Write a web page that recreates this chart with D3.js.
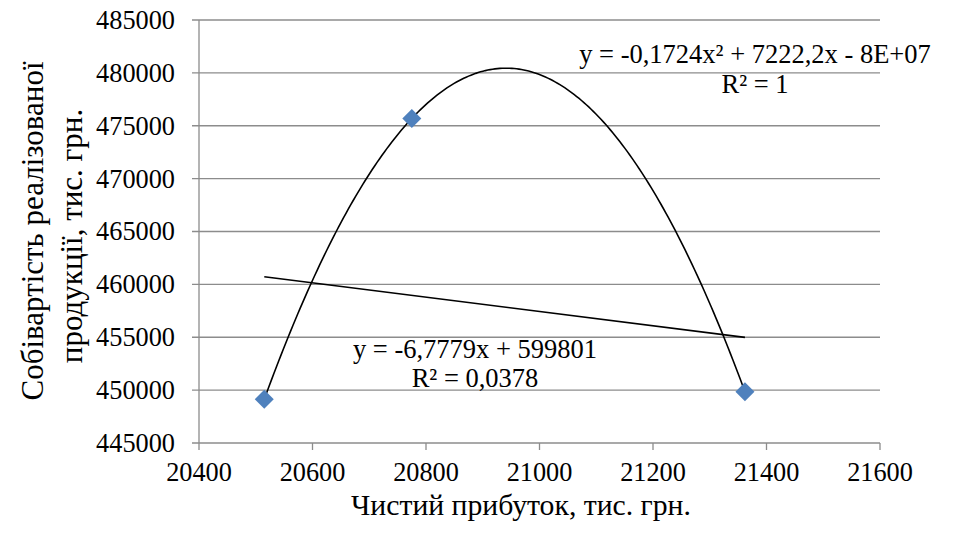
<!DOCTYPE html>
<html><head><meta charset="utf-8">
<script src="https://cdn.jsdelivr.net/npm/d3@7/dist/d3.min.js"></script>
<style>body{margin:0;background:#fff}svg{display:block}</style>
</head><body>
<script>
const xValues = [20515, 20775, 21362];
const yValues = [449130, 475690, 449850];
const xTicks = [20400, 20600, 20800, 21000, 21200, 21400, 21600];
const yTicks = [445000, 450000, 455000, 460000, 465000, 470000, 475000, 480000, 485000];
const xTitle = "Чистий прибуток, тис. грн.";
const yTitle = ["Собівартість реалізованої", "продукції, тис. грн."];
const polyLabel = ["y = -0,1724x² + 7222,2x - 8E+07", "R² = 1"];
const linLabel = ["y = -6,7779x + 599801", "R² = 0,0378"];

const W = 955, H = 535;
const m = {l: 199, r: 880, t: 20, b: 443};
const FONT = "'Liberation Serif', 'Times New Roman', Times, serif";
const svg = d3.select("body").append("svg").attr("width", W).attr("height", H)
  .attr("font-family", FONT);
const x = d3.scaleLinear().domain([20400, 21600]).range([m.l, m.r]);
const y = d3.scaleLinear().domain([445000, 485000]).range([m.b, m.t]);
const grid = "#8c8c8c";

svg.append("g").selectAll("line").data(yTicks).join("line")
  .attr("x1", m.l - 7).attr("x2", m.r).attr("y1", d => y(d)).attr("y2", d => y(d))
  .attr("stroke", grid).attr("stroke-width", 1.3);
svg.append("line").attr("x1", m.l).attr("x2", m.l).attr("y1", m.t).attr("y2", m.b)
  .attr("stroke", grid).attr("stroke-width", 1.3);
svg.append("g").selectAll("line").data(xTicks).join("line")
  .attr("x1", d => x(d)).attr("x2", d => x(d)).attr("y1", m.b).attr("y2", m.b + 7)
  .attr("stroke", grid).attr("stroke-width", 1.3);

function txt(sel) { return sel.attr("font-family", FONT).attr("fill", "#000"); }

txt(svg.append("g").selectAll("text").data(yTicks).join("text"))
  .attr("x", 175).attr("y", d => y(d)).attr("dy", "0.34em")
  .attr("text-anchor", "end").attr("font-size", 26.3).text(d => d);
txt(svg.append("g").selectAll("text").data(xTicks).join("text"))
  .attr("x", d => x(d)).attr("y", 481)
  .attr("text-anchor", "middle").attr("font-size", 26.3).text(d => d);

txt(svg.append("text")).attr("x", 521).attr("y", 515).attr("text-anchor", "middle")
  .attr("font-size", 29.7).text(xTitle);
yTitle.forEach((t, i) => {
  txt(svg.append("text")).attr("transform", `translate(${43 + i * 39},${i === 0 ? 231 : 236}) rotate(-90)`)
    .attr("text-anchor", "middle").attr("font-size", 31).text(t);
});

function solve(A, b) {
  const n = b.length; A = A.map((r, i) => [...r, b[i]]);
  for (let i = 0; i < n; i++) {
    let p = i; for (let k = i + 1; k < n; k++) if (Math.abs(A[k][i]) > Math.abs(A[p][i])) p = k;
    [A[i], A[p]] = [A[p], A[i]];
    for (let k = i + 1; k < n; k++) { const f = A[k][i] / A[i][i]; for (let j = i; j <= n; j++) A[k][j] -= f * A[i][j]; }
  }
  const s = new Array(n).fill(0);
  for (let i = n - 1; i >= 0; i--) { let v = A[i][n]; for (let j = i + 1; j < n; j++) v -= A[i][j] * s[j]; s[i] = v / A[i][i]; }
  return s;
}
function polyfit(deg) {
  const x0 = d3.mean(xValues);
  const n = deg + 1;
  const A = Array.from({length: n}, () => new Array(n).fill(0)), b = new Array(n).fill(0);
  xValues.forEach((xv, k) => {
    const u = xv - x0;
    for (let i = 0; i < n; i++) { b[i] += Math.pow(u, i) * yValues[k]; for (let j = 0; j < n; j++) A[i][j] += Math.pow(u, i + j); }
  });
  const c = solve(A, b);
  return xv => c.reduce((s, ci, i) => s + ci * Math.pow(xv - x0, i), 0);
}
const quad = polyfit(2), lin = polyfit(1);
const [xmin, xmax] = d3.extent(xValues);
const samples = d3.range(0, 201).map(i => xmin + (xmax - xmin) * i / 200);
const line = d3.line().x(d => x(d[0])).y(d => y(d[1]));
svg.append("path").attr("d", line(samples.map(v => [v, quad(v)])))
  .attr("fill", "none").attr("stroke", "#000").attr("stroke-width", 1.6);
svg.append("path").attr("d", line([xmin, xmax].map(v => [v, lin(v)])))
  .attr("fill", "none").attr("stroke", "#000").attr("stroke-width", 1.6);

svg.append("g").selectAll("path").data(xValues).join("path")
  .attr("d", d3.symbol(d3.symbolSquare, 180))
  .attr("transform", (d, i) => `translate(${x(d)},${y(yValues[i])}) rotate(45)`)
  .attr("fill", "#4f81bd");

polyLabel.forEach((t, i) => txt(svg.append("text")).attr("x", 755).attr("y", 63 + i * 30)
  .attr("text-anchor", "middle").attr("font-size", 26.5).text(t));
linLabel.forEach((t, i) => txt(svg.append("text")).attr("x", 475).attr("y", 358 + i * 29)
  .attr("text-anchor", "middle").attr("font-size", 26.5).text(t));
</script>
</body></html>
